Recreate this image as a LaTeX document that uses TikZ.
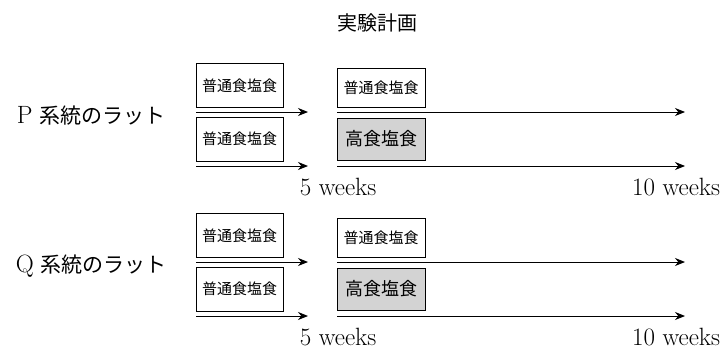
\documentclass[tikz,border=0pt]{standalone}
\usepackage{fontspec}
\newfontfamily\jp{Noto Sans CJK JP}
\usetikzlibrary{arrows.meta}
\definecolor{boxgrey}{RGB}{211,211,211}
\tikzset{
  diet/.style={draw=black, line width=0.8pt, inner sep=0pt, minimum width=87pt, font=\jp\fontsize{15}{15}\selectfont},
  highdiet/.style={diet, fill=boxgrey, font=\jp\fontsize{18}{18}\selectfont},
  arr/.style={line width=1pt, -{Stealth[length=10pt,width=8pt]}},
  wk/.style={font=\fontsize{25}{25}\selectfont, inner sep=0pt},
  strain/.style={font=\fontsize{21}{21}\selectfont, inner sep=0pt},
}
\begin{document}
\begin{tikzpicture}[x=1pt,y=-1pt]
\useasboundingbox (0,0) rectangle (726,351);
\node[font=\jp\fontsize{20}{20}\selectfont, inner sep=0pt] (title) at (377,23) {実験計画};
\foreach \g/\lab/\dy in {P/P/0, Q/Q/150} {
  \begin{scope}[yshift=-\dy pt]
  \node[strain] (\g lab) at (91,116) {{\fontsize{25}{25}\selectfont\lab}\ {\jp 系統のラット}};
  \node[diet, minimum height=44pt] (\g L1) at (239.5,85.5) {普通食塩食};
  \node[diet, minimum height=44pt] (\g L2) at (239.5,139) {普通食塩食};
  \node[diet, minimum width=88pt, minimum height=39pt] (\g R1) at (381,87.5) {普通食塩食};
  \node[highdiet, minimum width=88pt, minimum height=42pt] (\g R2) at (381,139) {高食塩食};
  \coordinate (\g a1s) at (196,112);
  \coordinate (\g a1e) at (308,112);
  \coordinate (\g a2s) at (196,166);
  \coordinate (\g a2e) at (308,166);
  \coordinate (\g b1s) at (337,112);
  \coordinate (\g b1e) at (685,112);
  \coordinate (\g b2s) at (337,166);
  \coordinate (\g b2e) at (685,166);
  \draw[arr] (\g a1s) -- (\g a1e);
  \draw[arr] (\g a2s) -- (\g a2e);
  \draw[arr] (\g b1s) -- (\g b1e);
  \draw[arr] (\g b2s) -- (\g b2e);
  \node[wk] (\g w5) at (338,187) {5 weeks};
  \node[wk] (\g w10) at (676,187) {10 weeks};
  \end{scope}
}
\end{tikzpicture}
\end{document}
